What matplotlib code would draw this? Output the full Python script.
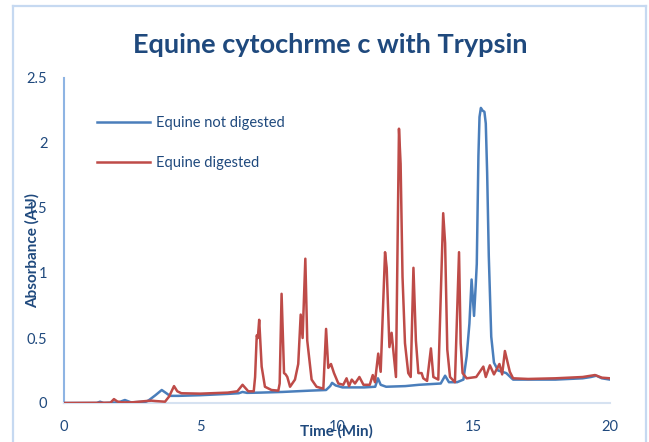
"""
Equine cytochrome c with trypsin: chromatogram overlay
"""

import matplotlib
matplotlib.use('Agg')
import matplotlib.pyplot as plt
from matplotlib.lines import Line2D

plt.rcParams['font.family'] = ['Lato', 'DejaVu Sans']

# not digested trace (time in min, absorbance in AU)
t_blue = [0, 1.2, 1.32, 1.45, 2.0, 2.23, 2.45, 3.0, 3.1, 3.35,
          3.58, 3.75, 3.88, 4.2, 5.0, 6.0, 6.4, 6.54, 6.7, 7.2,
          8.0, 9.0, 9.6, 9.75, 9.82, 9.95, 10.2, 11.0, 11.4, 11.5,
          11.6, 11.8, 12.5, 13.0, 13.8, 13.96, 14.1, 14.4, 14.63, 14.75,
          14.85, 14.93, 15.02, 15.08, 15.12, 15.18, 15.22, 15.27, 15.33, 15.4,
          15.45, 15.5, 15.56, 15.65, 15.75, 15.9, 16.2, 16.45, 17.0, 18.0,
          19.0, 19.3, 19.5, 19.7, 20]
abs_blue = [0, 0, 0.01, 0, 0.005, 0.023, 0.005, 0.01, 0.02, 0.06,
            0.10, 0.075, 0.055, 0.055, 0.06, 0.07, 0.075, 0.085, 0.078, 0.08,
            0.085, 0.095, 0.10, 0.13, 0.155, 0.135, 0.12, 0.12, 0.125, 0.19,
            0.14, 0.125, 0.13, 0.14, 0.15, 0.21, 0.16, 0.16, 0.18, 0.36,
            0.61, 0.95, 0.67, 0.9, 1.07, 1.9, 2.2, 2.27, 2.25, 2.24,
            2.15, 1.77, 1.13, 0.51, 0.31, 0.25, 0.23, 0.18, 0.18, 0.18,
            0.19, 0.2, 0.21, 0.19, 0.18]

# digested trace
t_red = [0, 1.7, 1.83, 1.95, 2.1, 2.5, 3.0, 3.2, 3.35, 3.7,
         3.85, 4.03, 4.15, 4.3, 5.0, 6.0, 6.35, 6.54, 6.75, 6.95,
         7.0, 7.06, 7.1, 7.15, 7.24, 7.36, 7.6, 7.85, 7.9, 7.97,
         8.06, 8.12, 8.18, 8.28, 8.46, 8.58, 8.67, 8.74, 8.84, 8.91,
         9.07, 9.25, 9.5, 9.6, 9.68, 9.78, 9.89, 10.05, 10.23, 10.35,
         10.44, 10.54, 10.66, 10.82, 10.97, 11.2, 11.31, 11.39, 11.51, 11.6,
         11.76, 11.82, 11.92, 12.0, 12.06, 12.16, 12.27, 12.33, 12.4, 12.49,
         12.61, 12.7, 12.8, 12.89, 12.98, 13.1, 13.16, 13.3, 13.44, 13.53,
         13.71, 13.89, 13.96, 14.04, 14.14, 14.32, 14.47, 14.53, 14.6, 14.75,
         15.1, 15.36, 15.45, 15.6, 15.75, 15.95, 16.05, 16.15, 16.33, 16.45,
         17.0, 18.0, 19.0, 19.45, 19.7, 20]
abs_red = [0, 0.002, 0.03, 0.012, 0.005, 0.005, 0.015, 0.018, 0.015, 0.01,
           0.05, 0.13, 0.09, 0.075, 0.072, 0.08, 0.09, 0.14, 0.09, 0.09,
           0.2, 0.52, 0.5, 0.64, 0.28, 0.125, 0.1, 0.095, 0.15, 0.84,
           0.23, 0.22, 0.2, 0.125, 0.18, 0.3, 0.68, 0.5, 1.11, 0.48,
           0.18, 0.125, 0.11, 0.57, 0.27, 0.3, 0.23, 0.15, 0.14, 0.19,
           0.13, 0.18, 0.15, 0.2, 0.14, 0.14, 0.215, 0.16, 0.38, 0.24,
           1.16, 1.04, 0.43, 0.54, 0.41, 0.2, 2.11, 1.84, 0.97, 0.46,
           0.23, 0.2, 1.04, 0.48, 0.23, 0.23, 0.19, 0.17, 0.42, 0.2,
           0.18, 1.46, 1.23, 0.41, 0.2, 0.16, 1.16, 0.46, 0.23, 0.19,
           0.2, 0.28, 0.2, 0.29, 0.22, 0.3, 0.22, 0.4, 0.24, 0.19,
           0.185, 0.19, 0.2, 0.215, 0.195, 0.19]

x_ticks = [0, 5, 10, 15, 20]
y_ticks = [0, 0.5, 1, 1.5, 2, 2.5]
y_tick_labels = ['0', '0.5', '1', '1.5', '2', '2.5']

TEXT = '#1F497D'
W, H = 649, 442

fig = plt.figure(figsize=(W / 100, H / 100), dpi=100)
ax = fig.add_axes([64 / W, 1 - 403 / H, (610 - 64) / W, (403 - 78) / H])

# chart border (light blue, open at bottom)
border = '#C6D9F1'
fig.add_artist(Line2D([13 / W, 13 / W], [0, 1 - 6 / H], color=border, lw=1.6))
fig.add_artist(Line2D([13 / W, 646 / W], [1 - 6 / H, 1 - 6 / H], color=border, lw=1.6))
fig.add_artist(Line2D([646 / W, 646 / W], [0, 1 - 6 / H], color=border, lw=1.6))

ax.plot(t_blue, abs_blue, color='#4A7EBB', lw=1.8, label='Equine not digested', zorder=3)
ax.plot(t_red, abs_red, color='#BE4B48', lw=1.8, label='Equine digested', zorder=4)

ax.set_xlim(0, 20)
ax.set_ylim(0, 2.5)
ax.set_xticks(x_ticks)
ax.set_xticklabels([str(v) for v in x_ticks])
ax.set_yticks(y_ticks)
ax.set_yticklabels(y_tick_labels)
ax.tick_params(length=0, labelsize=10.5, labelcolor=TEXT)
ax.tick_params(axis='y', pad=12)
ax.tick_params(axis='x', pad=12)

for side in ['top', 'right']:
    ax.spines[side].set_visible(False)
ax.spines['left'].set_color('#8EB4E3')
ax.spines['left'].set_linewidth(1.5)
ax.spines['bottom'].set_color('#D6E2F1')
ax.spines['bottom'].set_linewidth(1.5)

fig.text(330 / W, 1 - 45 / H, 'Equine cytochrme c with Trypsin', ha='center', va='center',
         fontsize=19.5, fontweight='bold', color=TEXT)
fig.text(32 / W, 1 - 250 / H, 'Absorbance (AU)', ha='center', va='center', rotation=90,
         fontsize=11, fontweight='bold', color=TEXT)
fig.text(336 / W, 1 - 431 / H, 'Time (Min)', ha='center', va='center',
         fontsize=11, fontweight='bold', color=TEXT)

leg = ax.legend(loc='upper left', bbox_to_anchor=(97 / W, 1 - 116 / H),
                bbox_transform=fig.transFigure, frameon=False, fontsize=10.5,
                handlelength=3.6, handletextpad=0.45, labelspacing=1.8,
                borderpad=0, borderaxespad=0)
for txt in leg.get_texts():
    txt.set_color(TEXT)

fig.savefig('out.png', dpi=100)
